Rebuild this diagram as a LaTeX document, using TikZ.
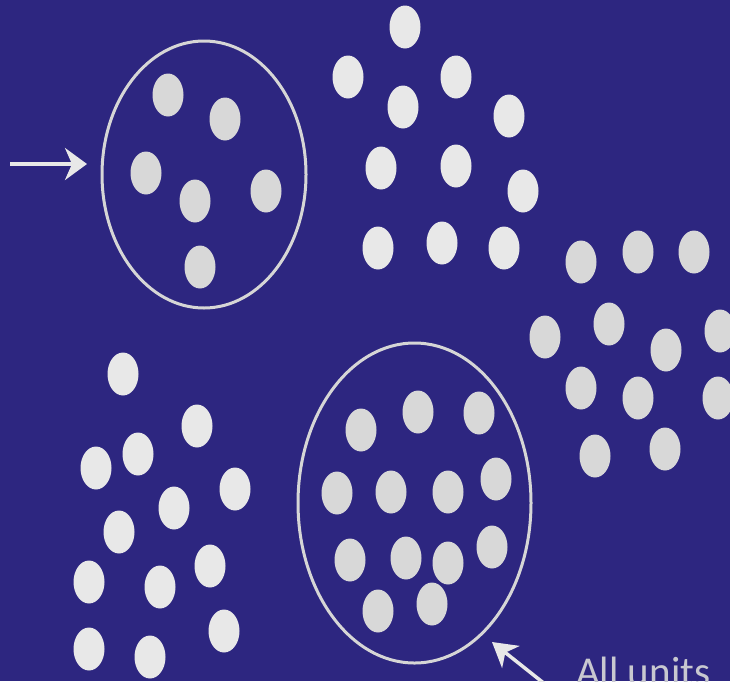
\documentclass[tikz,border=0pt]{standalone}
\usepackage{fontspec}
\setmainfont{Carlito}
\usetikzlibrary{arrows.meta,shapes.geometric}
\definecolor{bg}{RGB}{45,38,128}
\definecolor{dotw}{RGB}{232,232,232}
\definecolor{dotg}{RGB}{216,216,216}
\definecolor{ringc}{RGB}{214,214,214}
\definecolor{txtc}{RGB}{200,200,208}
\tikzset{
  dotA/.style={ellipse,fill=dotw,minimum width=31pt,minimum height=43pt,inner sep=0pt},
  dotB/.style={ellipse,fill=dotg,minimum width=31pt,minimum height=43pt,inner sep=0pt},
  ring/.style={ellipse,draw=ringc,line width=3pt,inner sep=0pt},
  pointer/.style={draw=dotw,line width=3.5pt,-{Stealth[length=22pt,width=32pt,inset=7pt]}}
}
\begin{document}
\begin{tikzpicture}[x=1pt,y=-1pt]
\useasboundingbox (0,0) rectangle (730,681);
\clip (0,0) rectangle (730,681);
\fill[bg] (0,0) rectangle (730,681);
% circled group 1
\node[ring,minimum width=204pt,minimum height=267pt] (e1) at (204,174.5) {};
\foreach \p [count=\i] in {(168,95),(225,119),(146,173),(195,201),(266,191),(200,267)}
  \node[dotB] (a\i) at \p {};
% top-right group
\foreach \p [count=\i] in {(405,27),(348,77),(456,77),(403,107),(509,116),(381,168),(456,166),(523,191),(378,248),(442,243),(504,248)}
  \node[dotA] (b\i) at \p {};
% right group
\foreach \p [count=\i] in {(581,262),(638,252),(694,252),(545,337),(609,324),(666,350),(720,331),(581,388),(638,398),(718,398),(595,456),(665,449)}
  \node[dotB] (c\i) at \p {};
% bottom-left group
\foreach \p [count=\i] in {(123,374),(197,426),(138,454),(96,468),(235,489),(174,508),(119,532),(210,566),(89,582),(160,587),(224,631),(89,649),(150,657)}
  \node[dotA] (d\i) at \p {};
% circled group 2
\node[ring,minimum width=233pt,minimum height=320pt] (e2) at (414.5,503) {};
\foreach \p [count=\i] in {(361,430),(418,412),(479,413),(337,493),(391,492),(448,492),(496,479),(350,560),(406,558),(448,563),(492,547),(378,611),(432,604)}
  \node[dotB] (f\i) at \p {};
% arrows
\coordinate (s1) at (10,164);
\coordinate (h1) at (87,164);
\draw[pointer] (s1) -- (h1);
\coordinate (s2) at (560,696);
\coordinate (h2) at (492,642);
\draw[pointer,-{Stealth[length=24pt,width=28pt,inset=7pt]}] (s2) -- (h2);
\node[anchor=base west,text=txtc,font=\fontsize{41pt}{41pt}\selectfont,inner sep=0pt] (lbl) at (576,685) {All units};
\end{tikzpicture}
\end{document}
